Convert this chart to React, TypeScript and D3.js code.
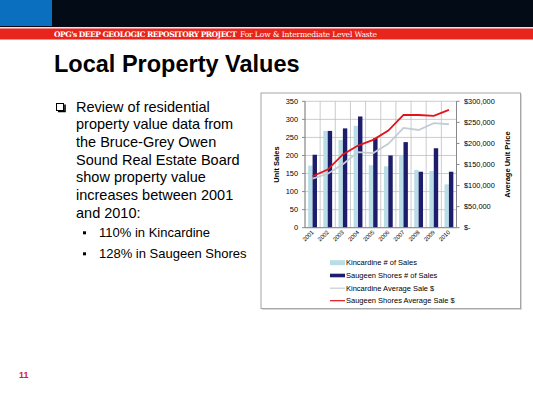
import { useRef, useEffect } from "react"
import * as d3 from "d3"

const years = ["2001", "2002", "2003", "2004", "2005", "2006", "2007", "2008", "2009", "2010"]
const kincardineSales = [172, 268, 243, 282, 173, 170, 200, 160, 157, 120]
const saugeenSales = [202, 268, 275, 308, 248, 200, 237, 155, 220, 155]
const kincardinePrice = [116500, 128000, 150500, 179500, 177000, 199000, 237000, 232000, 248000, 245500]
const saugeenPrice = [122000, 138000, 174000, 195000, 208500, 230500, 267500, 267500, 265500, 279500]
const leftTicks = [0, 50, 100, 150, 200, 250, 300, 350]
const rightTicks = [0, 50000, 100000, 150000, 200000, 250000, 300000]
const legendLabels = [
  "Kincardine # of Sales",
  "Saugeen Shores # of Sales",
  "Kincardine Average Sale $",
  "Saugeen Shores Average Sale $",
]
const bulletLines = [
  "Review of residential",
  "property value data from",
  "the Bruce-Grey Owen",
  "Sound Real Estate Board",
  "show property value",
  "increases between 2001",
  "and 2010:",
]
const subBullets = ["110% in Kincardine", "128% in Saugeen Shores"]

const LIGHT = "#b9dde6"
const DARK = "#1d1d6b"
const GREY_LINE = "#c4cdd4"
const RED = "#e3121b"
const FONT = "Liberation Sans, Arial, sans-serif"

const App = () => {
  const svgRef = useRef<SVGSVGElement>(null)

  useEffect(() => {
    const svg = d3.select(svgRef.current)
    svg.selectAll("*").remove()

    // slide header
    svg.append("rect").attr("x", 0).attr("y", 0).attr("width", 533).attr("height", 27).attr("fill", "#020b16")
    svg.append("rect").attr("x", 0).attr("y", 0).attr("width", 52).attr("height", 26).attr("fill", "#0a6fbf")
    svg.append("rect").attr("x", 0).attr("y", 27).attr("width", 533).attr("height", 1.5).attr("fill", "#e8e4e0")
    svg.append("rect").attr("x", 0).attr("y", 28.5).attr("width", 533).attr("height", 11).attr("fill", "#e8251c")
    const hdr = svg.append("text").attr("x", 54).attr("y", 37).attr("fill", "#fff")
      .style("font-family", "DejaVu Serif, serif").style("font-size", "7.6px")
    hdr.append("tspan").style("font-weight", "bold").attr("textLength", 183).text("OPG's DEEP GEOLOGIC REPOSITORY PROJECT")
    hdr.append("tspan").attr("x", 240).attr("textLength", 137).text("For Low & Intermediate Level Waste")

    // title
    svg.append("text").attr("x", 54).attr("y", 72).style("font-family", FONT).style("font-weight", "bold")
      .style("font-size", "23.5px").attr("fill", "#000").text("Local Property Values")

    // bullet box
    svg.append("rect").attr("x", 56.5).attr("y", 103.5).attr("width", 7).attr("height", 7)
      .attr("fill", "#fff").attr("stroke", "#000").attr("stroke-width", 1)
    svg.append("path").attr("d", "M58,111.5 H65 V104.5").attr("fill", "none").attr("stroke", "#000").attr("stroke-width", 1.6)

    bulletLines.forEach((t, i) => {
      svg.append("text").attr("x", 76).attr("y", 111.5 + i * 17.7).style("font-family", FONT)
        .style("font-size", "14.5px").attr("fill", "#000").text(t)
    })
    subBullets.forEach((t, i) => {
      const by = 237.3 + i * 21
      svg.append("rect").attr("x", 83).attr("y", by - 6).attr("width", 3).attr("height", 3).attr("fill", "#000")
      svg.append("text").attr("x", 99).attr("y", by).style("font-family", FONT)
        .style("font-size", "13px").attr("fill", "#000").text(t)
    })

    // page number
    svg.append("text").attr("x", 19).attr("y", 378).style("font-family", FONT).style("font-weight", "bold")
      .style("font-size", "9px").attr("fill", "#d42030").text("11")

    // chart frame
    svg.append("rect").attr("x", 262).attr("y", 94).attr("width", 260).attr("height", 216).attr("fill", "#d8d8d8")
    svg.append("rect").attr("x", 261).attr("y", 93).attr("width", 259.5).attr("height", 215.5)
      .attr("fill", "#fff").attr("stroke", "#a6a6a6").attr("stroke-width", 1)

    const left = 305, right = 456.5, top = 101.3, bottom = 227.7
    const x = d3.scaleBand().domain(years).range([left, right])
    const inner = d3.scaleBand().domain(["k", "s"]).range([0, x.bandwidth()]).paddingOuter(0.72)
    const yL = d3.scaleLinear().domain([0, 350]).range([bottom, top])
    const yR = d3.scaleLinear().domain([0, 300000]).range([bottom, top])

    const g = svg.append("g")
    // gridlines
    g.selectAll(".hgrid").data(leftTicks).enter().append("line")
      .attr("x1", left).attr("x2", right).attr("y1", (d) => yL(d)).attr("y2", (d) => yL(d))
      .attr("stroke", "#bfbfbf").attr("stroke-width", 0.8)
    const vlines = years.map((y) => x(y) as number).concat([right])
    g.selectAll(".vgrid").data(vlines).enter().append("line")
      .attr("x1", (d) => d).attr("x2", (d) => d).attr("y1", top).attr("y2", bottom)
      .attr("stroke", "#bfbfbf").attr("stroke-width", 0.8)

    // bars
    g.selectAll(".kbar").data(years).enter().append("rect")
      .attr("x", (d) => (x(d) as number) + (inner("k") as number))
      .attr("y", (d, i) => yL(kincardineSales[i]))
      .attr("width", inner.bandwidth())
      .attr("height", (d, i) => bottom - yL(kincardineSales[i]))
      .attr("fill", LIGHT)
    g.selectAll(".sbar").data(years).enter().append("rect")
      .attr("x", (d) => (x(d) as number) + (inner("s") as number))
      .attr("y", (d, i) => yL(saugeenSales[i]))
      .attr("width", inner.bandwidth())
      .attr("height", (d, i) => bottom - yL(saugeenSales[i]))
      .attr("fill", DARK)

    // axes lines
    g.append("line").attr("x1", left).attr("x2", left).attr("y1", top).attr("y2", bottom).attr("stroke", "#888")
    g.append("line").attr("x1", right).attr("x2", right).attr("y1", top).attr("y2", bottom).attr("stroke", "#888")
    g.append("line").attr("x1", left).attr("x2", right).attr("y1", bottom).attr("y2", bottom).attr("stroke", "#888")

    // lines
    const cx = (d: string) => (x(d) as number) + x.bandwidth() / 2
    const lineK = d3.line<number>().x((d, i) => cx(years[i])).y((d) => yR(d))
    g.append("path").attr("d", lineK(kincardinePrice)).attr("fill", "none").attr("stroke", GREY_LINE).attr("stroke-width", 1.8)
    g.append("path").attr("d", lineK(saugeenPrice)).attr("fill", "none").attr("stroke", RED).attr("stroke-width", 1.8)

    // left axis
    leftTicks.forEach((t) => {
      g.append("line").attr("x1", left - 3).attr("x2", left).attr("y1", yL(t)).attr("y2", yL(t)).attr("stroke", "#888")
      g.append("text").attr("x", 298).attr("y", yL(t) + 2.5).attr("text-anchor", "end")
        .style("font-family", FONT).style("font-size", "7.4px").attr("fill", "#000").text(t)
    })
    // right axis
    const fmt = d3.format(",")
    rightTicks.forEach((t) => {
      g.append("line").attr("x1", right).attr("x2", right + 3).attr("y1", yR(t)).attr("y2", yR(t)).attr("stroke", "#888")
      g.append("text").attr("x", 464).attr("y", yR(t) + 2.5)
        .style("font-family", FONT).style("font-size", "7.4px").attr("fill", "#000")
        .text(t === 0 ? "$-" : `$${fmt(t)}`)
    })
    // x labels
    years.forEach((yv) => {
      g.append("text").attr("transform", `translate(${cx(yv) + 1.5},${bottom + 5}) rotate(-45)`)
        .attr("text-anchor", "end").style("font-family", FONT).style("font-size", "5.8px").attr("fill", "#000").text(yv)
    })
    // axis titles
    g.append("text").attr("transform", `translate(279,${(top + bottom) / 2}) rotate(-90)`).attr("text-anchor", "middle")
      .style("font-family", FONT).style("font-weight", "bold").style("font-size", "7.5px").text("Unit Sales")
    g.append("text").attr("transform", `translate(510,${(top + bottom) / 2}) rotate(-90)`).attr("text-anchor", "middle")
      .style("font-family", FONT).style("font-weight", "bold").style("font-size", "7.5px").text("Average Unit Price")

    // legend
    const ly = [262.7, 275.5, 288.2, 300.7]
    const lg = svg.append("g")
    lg.append("rect").attr("x", 330).attr("y", ly[0] - 2.5).attr("width", 15).attr("height", 5).attr("fill", LIGHT)
    lg.append("rect").attr("x", 330).attr("y", ly[1] - 1.8).attr("width", 15).attr("height", 3.6).attr("fill", DARK)
    lg.append("line").attr("x1", 330).attr("x2", 345).attr("y1", ly[2]).attr("y2", ly[2]).attr("stroke", GREY_LINE).attr("stroke-width", 1.2)
    lg.append("line").attr("x1", 330).attr("x2", 345).attr("y1", ly[3]).attr("y2", ly[3]).attr("stroke", RED).attr("stroke-width", 1.2)
    legendLabels.forEach((t, i) => {
      lg.append("text").attr("x", 346).attr("y", ly[i] + 2.5).style("font-family", FONT)
        .style("font-size", "7.5px").attr("fill", "#000").text(t)
    })
  }, [])

  return (
    <svg ref={svgRef} width={533} height={399} style={{ position: "absolute", left: 0, top: 0, background: "#fff" }} />
  )
}

export default App
